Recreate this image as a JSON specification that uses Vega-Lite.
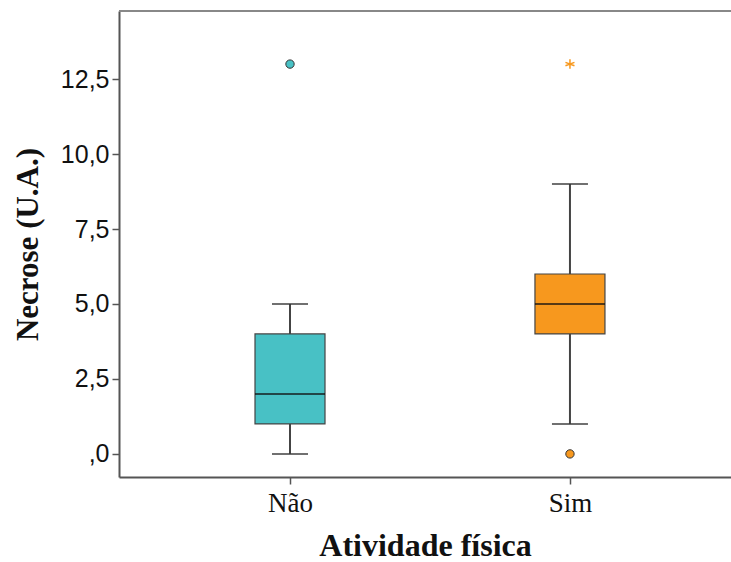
{
  "$schema": "https://vega.github.io/schema/vega-lite/v6.json",
  "width": 612,
  "height": 466,
  "autosize": "none",
  "padding": {"left": 119, "top": 11, "right": 0, "bottom": 85},
  "background": "white",
  "config": {
    "view": {"stroke": null},
    "axis": {"grid": false, "domainColor": "#555555", "domainWidth": 2, "tickColor": "#555555", "tickWidth": 1.5, "tickSize": 7, "labelColor": "#111111", "titleColor": "#111111"}
  },
  "datasets": {
    "boxes": [
      {"grupo": "Não", "min": 0, "q1": 1, "mediana": 2, "q3": 4, "max": 5},
      {"grupo": "Sim", "min": 1, "q1": 4, "mediana": 5, "q3": 6, "max": 9}
    ],
    "outliers": [
      {"grupo": "Não", "valor": 13, "tipo": "outlier"},
      {"grupo": "Sim", "valor": 0, "tipo": "outlier"},
      {"grupo": "Sim", "valor": 13, "tipo": "extremo"}
    ]
  },
  "layer": [
    {
      "data": {"name": "boxes"},
      "mark": {"type": "rule", "color": "#444444", "strokeWidth": 2},
      "encoding": {
        "x": {
          "field": "grupo", "type": "nominal",
          "scale": {"type": "point", "domain": ["Não", "Sim"], "padding": 0.593, "align": 0.515},
          "axis": {"title": "Atividade física", "titleFont": "Liberation Serif", "titleFontSize": 32, "titleFontWeight": "bold", "titlePadding": 14, "labelFont": "Liberation Serif", "labelFontSize": 27, "labelAngle": 0, "labelPadding": 6}
        },
        "y": {"field": "min", "type": "quantitative",
          "scale": {"domain": [-0.77, 14.77], "nice": false, "zero": false},
          "axis": {"title": "Necrose (U.A.)", "titleFont": "Liberation Serif", "titleFontSize": 31, "titleFontWeight": "bold", "titlePadding": 16, "labelFont": "Liberation Sans", "labelFontSize": 25, "labelPadding": 3, "values": [0, 2.5, 5, 7.5, 10, 12.5], "labelExpr": "datum.value == 0 ? ',0' : replace(format(datum.value, '.1f'), '.', ',')"}},
        "y2": {"field": "max"}
      }
    },
    {
      "data": {"name": "boxes"},
      "mark": {"type": "tick", "color": "#333333", "size": 36, "thickness": 2},
      "encoding": {"x": {"field": "grupo", "type": "nominal"}, "y": {"field": "min", "type": "quantitative"}}
    },
    {
      "data": {"name": "boxes"},
      "mark": {"type": "tick", "color": "#333333", "size": 36, "thickness": 2},
      "encoding": {"x": {"field": "grupo", "type": "nominal"}, "y": {"field": "max", "type": "quantitative"}}
    },
    {
      "data": {"name": "boxes"},
      "mark": {"type": "bar", "size": 70, "stroke": "#444444", "strokeWidth": 1.2},
      "encoding": {
        "x": {"field": "grupo", "type": "nominal"},
        "y": {"field": "q1", "type": "quantitative"},
        "y2": {"field": "q3"},
        "fill": {"field": "grupo", "type": "nominal", "scale": {"domain": ["Não", "Sim"], "range": ["#48C1C5", "#F7981E"]}, "legend": null}
      }
    },
    {
      "data": {"name": "boxes"},
      "mark": {"type": "tick", "color": "#111111", "size": 70, "thickness": 2},
      "encoding": {"x": {"field": "grupo", "type": "nominal"}, "y": {"field": "mediana", "type": "quantitative"}}
    },
    {
      "data": {"name": "outliers"},
      "transform": [{"filter": "datum.tipo == 'outlier'"}],
      "mark": {"type": "point", "shape": "circle", "filled": true, "size": 70, "stroke": "#333333", "strokeWidth": 1, "opacity": 1},
      "encoding": {
        "x": {"field": "grupo", "type": "nominal"},
        "y": {"field": "valor", "type": "quantitative"},
        "fill": {"field": "grupo", "type": "nominal", "scale": {"domain": ["Não", "Sim"], "range": ["#48C1C5", "#F7981E"]}, "legend": null}
      }
    },
    {
      "data": {"name": "outliers"},
      "transform": [{"filter": "datum.tipo == 'extremo'"}],
      "mark": {"type": "point", "shape": "M0,-1L0,1M-0.95,-0.35L0.95,0.35M-0.95,0.35L0.95,-0.35", "filled": false, "size": 90, "stroke": "#F7981E", "strokeWidth": 1.5, "opacity": 1},
      "encoding": {
        "x": {"field": "grupo", "type": "nominal"},
        "y": {"field": "valor", "type": "quantitative"}
      }
    },
    {
      "data": {"values": [{"topo": 14.77}]},
      "mark": {"type": "rule", "color": "#888888", "strokeWidth": 2},
      "encoding": {"y": {"field": "topo", "type": "quantitative"}}
    }
  ]
}
